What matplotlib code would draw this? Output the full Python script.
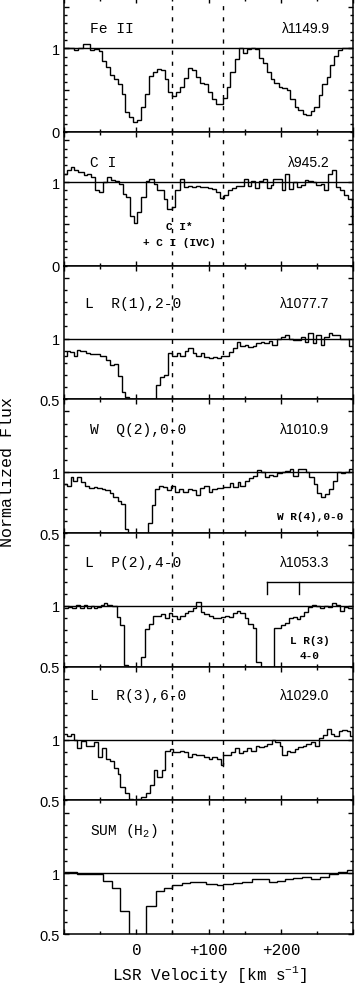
# stacked absorption profiles, Fe II / C I / H2 lines vs LSR velocity
import numpy as np
import matplotlib.pyplot as plt
from matplotlib.ticker import MultipleLocator, FuncFormatter

plt.rcParams['mathtext.fontset'] = 'custom'
plt.rcParams['mathtext.rm'] = 'Liberation Mono'
plt.rcParams['mathtext.it'] = 'Liberation Mono'
plt.rcParams['mathtext.bf'] = 'Liberation Mono:bold'

MONO = 'Liberation Mono'
SANS = 'Liberation Sans'

#%% data, bin edges in km/s and normalized flux

feii_edges = [-100, -86, -80, -74, -64, -58, -52, -48, -42, -36, -31, -25, -20, -15, -10,
              -4, 1, 7, 12, 18, 23, 28, 34, 39, 44, 50, 55, 60, 66, 71, 77, 83, 88, 94,
              99, 105, 110, 116, 120, 125, 130, 136, 142, 147, 153, 158, 164, 169, 175,
              180, 186, 191, 197, 202, 208, 213, 219, 224, 230, 235, 241, 246, 252, 257,
              263, 268, 274, 279, 285, 290, 300]
feii_flux = [1.0, 0.98, 1.0, 1.05, 0.98, 0.99, 0.97, 0.85, 0.78, 0.68, 0.63, 0.58, 0.46,
             0.24, 0.18, 0.12, 0.14, 0.30, 0.46, 0.67, 0.72, 0.76, 0.74, 0.64, 0.48, 0.43,
             0.48, 0.54, 0.65, 0.77, 0.74, 0.66, 0.59, 0.57, 0.48, 0.40, 0.34, 0.33, 0.41,
             0.54, 0.72, 0.87, 1.0, 0.95, 0.99, 1.0, 0.99, 0.89, 0.82, 0.72, 0.64, 0.59,
             0.54, 0.53, 0.50, 0.40, 0.30, 0.26, 0.22, 0.20, 0.25, 0.30, 0.44, 0.57, 0.66,
             0.80, 0.91, 0.98, 1.01, 1.0]

ci_edges = [-100, -96, -91, -86, -80, -73, -68, -62, -57, -51, -46, -41, -35, -30, -24,
            -19, -14, -9, -3, 1, 7, 13, 18, 24, 28, 33, 38, 43, 49, 54, 60, 66, 71, 77,
            83, 88, 94, 99, 105, 110, 116, 121, 127, 132, 138, 143, 149, 154, 158, 164,
            169, 175, 180, 186, 189, 195, 201, 206, 211, 216, 222, 227, 233, 238, 244,
            249, 255, 259, 265, 271, 276, 282, 287, 293, 298, 300]
ci_flux = [1.10, 1.14, 1.18, 1.14, 1.12, 1.09, 1.10, 1.06, 0.90, 0.88, 1.0, 1.06, 1.03,
           1.01, 0.98, 0.86, 0.82, 0.60, 0.51, 0.64, 0.82, 1.01, 1.04, 0.98, 0.90, 0.90,
           0.80, 0.68, 0.70, 0.90, 1.04, 0.94, 0.95, 0.94, 0.95, 0.94, 0.94, 0.93, 0.92,
           0.88, 0.81, 0.84, 0.90, 0.93, 0.95, 0.95, 1.04, 0.95, 1.01, 0.93, 1.01, 1.04,
           0.93, 0.97, 1.04, 1.04, 0.91, 1.10, 0.92, 1.0, 0.94, 0.96, 1.03, 1.01, 1.0,
           0.96, 0.98, 0.91, 1.10, 1.15, 0.94, 0.90, 0.84, 0.80, 0.50]

lr1_edges = [-100, -96, -92, -86, -82, -78, -70, -64, -50, -42, -36, -31, -25, -20, -15,
             -10, -4, 1, 7, 12, 18, 23, 27, 33, 38, 44, 50, 56, 61, 67, 72, 78, 83, 89,
             94, 100, 106, 111, 117, 122, 128, 133, 139, 144, 150, 155, 161, 166, 172,
             177, 183, 188, 194, 200, 205, 211, 216, 222, 227, 233, 238, 244, 249, 255,
             260, 266, 271, 277, 282, 288, 294, 300]
lr1_flux = [0.86, 0.90, 0.89, 0.86, 0.91, 0.90, 0.88, 0.87, 0.86, 0.82, 0.78, 0.79, 0.69,
            0.56, 0.52, 0.30, 0.10, 0.05, 0.05, 0.10, 0.20, 0.40, 0.62, 0.68, 0.70, 0.88,
            0.86, 0.88, 0.86, 0.90, 0.92, 0.88, 0.86, 0.88, 0.85, 0.84, 0.85, 0.84, 0.86,
            0.86, 0.89, 0.92, 0.97, 0.94, 0.95, 0.93, 0.94, 0.96, 0.97, 0.96, 0.98, 0.95,
            1.0, 1.01, 1.03, 1.0, 0.99, 0.99, 1.01, 0.97, 1.05, 0.96, 1.03, 0.95, 1.01,
            1.05, 1.03, 1.03, 1.0, 1.0, 0.94]

wq2_edges = [-100, -96, -91, -87, -82, -76, -71, -65, -59, -55, -48, -43, -37, -32, -26,
             -21, -15, -11, -4, 1, 7, 12, 16, 21, 26, 32, 37, 43, 48, 54, 59, 65, 71, 77,
             82, 88, 94, 100, 105, 111, 120, 129, 134, 140, 144, 150, 156, 162, 167, 173,
             178, 184, 189, 195, 201, 206, 212, 217, 223, 228, 234, 239, 245, 250, 256,
             261, 267, 272, 278, 283, 289, 294, 300]
wq2_flux = [0.90, 0.89, 0.96, 0.93, 0.96, 0.92, 0.89, 0.87, 0.88, 0.87, 0.86, 0.85, 0.83,
            0.80, 0.76, 0.74, 0.53, 0.45, 0.30, 0.20, 0.30, 0.45, 0.58, 0.73, 0.86, 0.89,
            0.88, 0.85, 0.89, 0.84, 0.86, 0.84, 0.86, 0.85, 0.81, 0.87, 0.89, 0.84, 0.86,
            0.87, 0.88, 0.91, 0.88, 0.92, 0.89, 0.93, 0.95, 0.97, 1.02, 1.0, 0.96, 0.98,
            0.97, 0.99, 1.0, 1.01, 1.03, 0.97, 1.03, 1.03, 1.0, 0.96, 0.90, 0.83, 0.80,
            0.82, 0.86, 0.93, 1.0, 0.99, 1.0, 1.03]

lp2_edges = [-100, -94, -89, -83, -78, -73, -68, -63, -59, -54, -49, -45, -40, -34, -27,
             -22, -17, -11, -5, 0, 6, 12, 18, 23, 28, 34, 39, 45, 50, 56, 61, 67, 72, 78,
             83, 89, 94, 100, 106, 111, 117, 122, 128, 133, 139, 144, 150, 155, 161, 166,
             172, 177, 184, 190, 200, 205, 211, 216, 222, 226, 232, 237, 243, 248, 254,
             259, 265, 270, 276, 282, 287, 293, 300]
lp2_flux = [0.98, 0.99, 0.98, 1.01, 0.98, 1.01, 0.98, 1.0, 0.98, 0.99, 1.01, 1.02, 1.01,
            1.0, 0.91, 0.84, 0.51, 0.45, 0.20, 0.30, 0.58, 0.81, 0.85, 0.92, 0.92, 0.93,
            0.90, 0.94, 0.92, 0.89, 0.92, 0.94, 0.96, 0.98, 1.03, 0.95, 0.93, 0.92, 0.90,
            0.90, 0.91, 0.92, 0.91, 0.94, 0.96, 0.94, 0.90, 0.85, 0.82, 0.54, 0.42, 0.25,
            0.40, 0.82, 0.84, 0.86, 0.90, 0.91, 0.89, 0.92, 0.95, 0.99, 1.01, 1.0, 0.98,
            1.0, 0.99, 1.02, 1.01, 0.96, 0.99, 0.98]

lr3_edges = [-100, -96, -91, -86, -82, -76, -70, -64, -59, -53, -48, -42, -36, -31, -26,
             -22, -16, -10, -4, 1, 7, 13, 19, 24, 29, 35, 40, 46, 51, 60, 66, 71, 77, 82,
             88, 94, 100, 105, 111, 117, 120, 126, 131, 137, 142, 148, 153, 159, 165, 170,
             176, 181, 187, 192, 198, 202, 208, 213, 219, 224, 230, 235, 241, 247, 252,
             258, 263, 269, 274, 280, 285, 291, 296, 300]
lr3_flux = [1.05, 1.03, 1.05, 1.0, 0.93, 0.99, 0.95, 0.95, 0.98, 0.86, 0.93, 0.84, 0.82,
            0.77, 0.72, 0.61, 0.56, 0.51, 0.49, 0.51, 0.53, 0.56, 0.63, 0.75, 0.69, 0.75,
            0.91, 0.92, 0.90, 0.91, 0.90, 0.86, 0.88, 0.87, 0.87, 0.86, 0.84, 0.86, 0.84,
            0.79, 0.87, 0.87, 0.90, 0.93, 0.89, 0.91, 0.93, 0.91, 0.95, 0.94, 0.95, 0.96,
            1.0, 0.98, 0.95, 0.87, 0.91, 0.90, 0.92, 0.94, 0.95, 0.96, 0.98, 0.95, 1.01,
            1.04, 1.09, 1.05, 1.03, 1.07, 1.08, 1.07, 1.03]

sum_edges = [-100, -82, -64, -46, -34, -22, -10, 1, 14, 27, 38, 50, 63, 74, 86, 97, 111,
             120, 134, 146, 160, 171, 183, 194, 206, 217, 229, 241, 254, 267, 279, 291, 300]
sum_flux = [1.01, 0.995, 0.99, 0.94, 0.88, 0.69, 0.30, 0.30, 0.73, 0.85, 0.88, 0.90, 0.92,
            0.93, 0.93, 0.91, 0.90, 0.91, 0.92, 0.93, 0.95, 0.95, 0.93, 0.94, 0.95, 0.96,
            0.97, 0.95, 0.97, 0.99, 1.01, 1.03]

panel_names = ['Fe II', 'C I', 'L  R(1),2-0', 'W  Q(2),0-0', 'L  P(2),4-0',
               'L  R(3),6-0', 'SUM (H$_2$)']
panel_waves = ['λ1149.9', 'λ945.2', 'λ1077.7', 'λ1010.9', 'λ1053.3', 'λ1029.0', '']
panel_ymin = [0, 0, 0.5, 0.5, 0.5, 0.5, 0.5]
panel_edges = [feii_edges, ci_edges, lr1_edges, wq2_edges, lp2_edges, lr3_edges, sum_edges]
panel_flux = [feii_flux, ci_flux, lr1_flux, wq2_flux, lp2_flux, lr3_flux, sum_flux]

comp_vel = [50, 120]          # dashed component markers
lr3_marks = [180, 225]        # L R(3) 4-0 bracket ticks in the P(2) panel

#%% layout, pixel based on a 355x987 canvas

W, H = 355, 987
fig = plt.figure(figsize=(W / 100, H / 100), dpi=100)

x0, x1 = 64, 353.3
top, hp = -0.67, 133.67
label_x = [-64, -64, -71, -64, -71, -64, -64]
label_y = [1.25, 1.24, 1.29, 1.355, 1.36, 1.37, 1.355]

axes = []
for i in range(7):
    bot_px = top + (i + 1) * hp
    ax = fig.add_axes([x0 / W, 1 - bot_px / H, (x1 - x0) / W, hp / H])
    axes.append(ax)
    ymin = panel_ymin[i]

    ax.stairs(panel_flux[i], panel_edges[i], baseline=None, color='k', lw=1.0)
    ax.axhline(1.0, color='k', lw=1.0)
    for v in comp_vel:
        ax.axvline(v, color='k', lw=1.0, ls=(0, (3, 5)))

    ax.set_xlim(-100, 300)
    ax.set_ylim(ymin, 1.6)

    ax.xaxis.set_major_locator(MultipleLocator(100))
    ax.xaxis.set_minor_locator(MultipleLocator(50))
    ax.yaxis.set_major_locator(MultipleLocator(0.5))
    ax.yaxis.set_minor_locator(MultipleLocator(0.1))
    ax.tick_params(which='both', direction='in', top=True, right=True, width=1.0)
    ax.tick_params(which='major', length=3.5)
    ax.tick_params(which='minor', length=2.2)
    ax.tick_params(axis='y', labelfontfamily=SANS, labelsize=10.5, pad=3)
    ax.tick_params(axis='x', labelfontfamily=MONO, labelsize=11.5, pad=6)

    shown = [0, 1] if ymin == 0 else [0.5, 1]
    ax.yaxis.set_major_formatter(FuncFormatter(
        lambda y, _, s=shown: ('%g' % y) if any(np.isclose(y, s)) else ''))

    if i < 6:
        ax.tick_params(labelbottom=False)
    else:
        xl = {0: '0', 100: '+100', 200: '+200'}
        ax.xaxis.set_major_formatter(FuncFormatter(
            lambda x, _: xl.get(int(round(x)), '')))

    for sp in ax.spines.values():
        sp.set_linewidth(1.1)

    ax.text(label_x[i], label_y[i], panel_names[i], family=MONO, fontsize=10.5,
            va='center', ha='left')
    if panel_waves[i]:
        ax.text(267, label_y[i], panel_waves[i], family=SANS, fontsize=10,
                va='center', ha='right')

#%% extra annotations

ax = axes[1]
ax.text(60, 0.48, 'C I*', family=MONO, fontsize=8, fontweight='bold',
        ha='center', va='center')
ax.text(60, 0.28, '+ C I (IVC)', family=MONO, fontsize=8, fontweight='bold',
        ha='center', va='center')

ax = axes[3]
ax.text(240, 0.64, 'W R(4),0-0', family=MONO, fontsize=8, fontweight='bold',
        ha='center', va='center')

ax = axes[4]
ax.plot([lr3_marks[0], 300], [1.20, 1.20], color='k', lw=1.0, clip_on=False)
for v in lr3_marks:
    ax.plot([v, v], [1.20, 1.10], color='k', lw=1.0)
ax.text(240, 0.72, 'L R(3)', family=MONO, fontsize=8, fontweight='bold',
        ha='center', va='center')
ax.text(240, 0.60, '4-0', family=MONO, fontsize=8, fontweight='bold',
        ha='center', va='center')

fig.text(8 / W, 1 - 472 / H, 'Normalized Flux', family=MONO, fontsize=12,
         rotation=90, ha='center', va='center')
fig.text(210 / W, 1 - 975 / H, 'LSR Velocity [km s$^{-1}$]', family=MONO,
         fontsize=11.5, ha='center', va='center')

fig.savefig('out.png', dpi=100)
